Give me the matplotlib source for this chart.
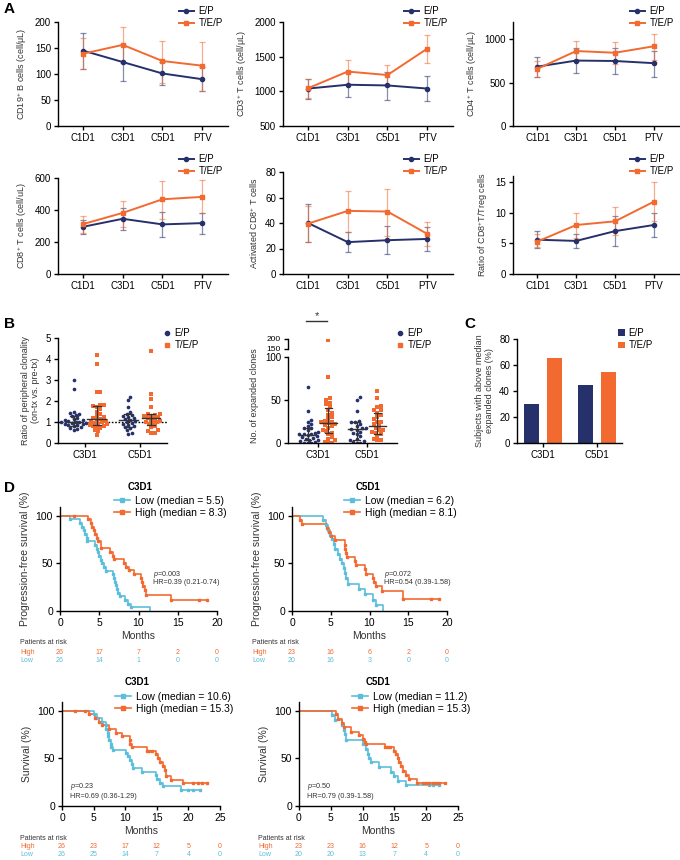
import numpy as np
import matplotlib
matplotlib.use("Agg")
import matplotlib.pyplot as plt
import matplotlib.transforms as mtransforms
from matplotlib.lines import Line2D

plt.rcParams['font.family'] = ['Liberation Sans', 'DejaVu Sans']
plt.rcParams['mathtext.fontset'] = 'custom'
plt.rcParams['mathtext.rm'] = 'Liberation Sans'
plt.rcParams['mathtext.it'] = 'Liberation Sans:italic'

W, H = 680, 860
NAVY = '#26306a'
ORANGE = '#f26a30'
CYAN = '#5bbfdc'

# ---------------- panel A data: mean, lower, upper ----------------
visits = ['C1D1', 'C3D1', 'C5D1', 'PTV']

cd19_ep = [145, 123, 101, 90]
cd19_ep_lo = [110, 87, 78, 67]
cd19_ep_hi = [179, 155, 124, 113]
cd19_tep = [139, 156, 125, 116]
cd19_tep_lo = [110, 122, 83, 68]
cd19_tep_hi = [170, 191, 164, 162]

cd3_ep = [1040, 1095, 1085, 1040]
cd3_ep_lo = [895, 915, 880, 860]
cd3_ep_hi = [1185, 1275, 1280, 1225]
cd3_tep = [1045, 1285, 1235, 1615]
cd3_tep_lo = [900, 1110, 1090, 1410]
cd3_tep_hi = [1185, 1450, 1375, 1815]

cd4_ep = [685, 755, 750, 725]
cd4_ep_lo = [570, 610, 600, 570]
cd4_ep_hi = [795, 895, 895, 870]
cd4_tep = [660, 865, 845, 920]
cd4_tep_lo = [570, 750, 720, 760]
cd4_tep_hi = [750, 980, 965, 1060]

cd8_ep = [295, 345, 310, 318]
cd8_ep_lo = [250, 275, 230, 250]
cd8_ep_hi = [340, 410, 385, 380]
cd8_tep = [312, 382, 467, 482]
cd8_tep_lo = [255, 295, 345, 380]
cd8_tep_hi = [365, 455, 580, 585]

act_ep = [40, 25, 26.5, 27.5]
act_ep_lo = [25, 17, 16, 18]
act_ep_hi = [55, 33, 37.5, 37]
act_tep = [39.5, 49.5, 49, 31.5]
act_tep_lo = [25, 33, 30, 22]
act_tep_hi = [53, 65, 67, 40.5]

ratio_ep = [5.6, 5.4, 7.0, 8.0]
ratio_ep_lo = [4.2, 4.2, 4.5, 6.0]
ratio_ep_hi = [7.1, 6.6, 9.4, 9.9]
ratio_tep = [5.3, 8.0, 8.6, 11.8]
ratio_tep_lo = [4.4, 5.9, 6.3, 8.7]
ratio_tep_hi = [6.5, 10.0, 10.9, 15.0]

# ---------------- panel B data ----------------
timepoints = ['C3D1', 'C5D1']
clon_ep_c3 = [3.0, 2.55, 1.5, 1.45, 1.4, 1.35, 1.3, 1.2, 1.15, 1.1, 1.1, 1.05, 1.0, 1.0,
              1.0, 0.95, 0.95, 0.9, 0.9, 0.85, 0.85, 0.8, 0.75, 0.7, 0.65, 0.6]
clon_tep_c3 = [4.2, 3.75, 2.45, 2.45, 1.8, 1.8, 1.75, 1.7, 1.6, 1.5, 1.4, 1.3, 1.25, 1.2, 1.15,
               1.1, 1.05, 1.0, 1.0, 0.95, 0.9, 0.9, 0.85, 0.8, 0.8, 0.75, 0.7, 0.6, 0.55, 0.4]
clon_ep_c5 = [2.2, 2.05, 1.7, 1.5, 1.4, 1.35, 1.3, 1.25, 1.2, 1.15, 1.1, 1.05, 1.0, 0.95,
              0.9, 0.85, 0.8, 0.75, 0.7, 0.6, 0.5, 0.45]
clon_tep_c5 = [4.4, 2.35, 2.1, 1.7, 1.4, 1.4, 1.35, 1.3, 1.3, 1.25, 1.2, 1.15, 1.1, 1.05,
               1.0, 1.0, 0.95, 0.9, 0.8, 0.75, 0.6, 0.55, 0.5, 0.5]
clon_med = [1.0, 1.15, 1.1, 1.2]
clon_q1 = [0.8, 0.85, 0.75, 0.85]
clon_q3 = [1.3, 1.75, 1.4, 1.4]

exp_ep_c3 = [65, 37, 27, 25, 22, 20, 18, 17, 15, 13, 12, 11, 10, 10, 9, 8, 7, 6, 5, 4, 3,
             2, 1, 0, 0, 0]
exp_tep_c3 = [195, 77, 52, 50, 47, 45, 42, 38, 35, 33, 30, 28, 26, 25, 24, 23, 22, 21, 20,
              18, 15, 14, 12, 10, 7, 5, 3, 1, 0, 0]
exp_ep_c5 = [53, 50, 37, 26, 25, 24, 22, 20, 18, 17, 16, 15, 13, 12, 10, 8, 5, 3, 2, 1, 0, 0]
exp_tep_c5 = [60, 52, 43, 42, 38, 38, 35, 32, 30, 28, 25, 25, 22, 20, 18, 15, 15, 13, 12,
              10, 8, 5, 4, 3]
exp_med = [9, 23, 16, 20]
exp_q1 = [4, 12, 4, 10]
exp_q3 = [17, 41, 24, 35]

# ---------------- panel C data ----------------
above_ep = [30, 45]
above_tep = [65.5, 54.5]

# ---------------- panel D data (KM steps) ----------------
pfs3_hi_t = [0, 3.6, 3.9, 4.1, 4.3, 4.5, 4.7, 4.9, 5.2, 6.4, 6.7, 6.9, 8.1, 8.4, 8.8, 9.4,
             10.3, 10.5, 10.6, 10.8, 11.0, 14.2, 18.7]
pfs3_hi_s = [100, 96, 92, 88, 85, 81, 77, 73, 66, 62, 58, 54, 50, 46, 43, 39, 35, 30, 26,
             22, 17, 12, 12]
pfs3_hi_cens = [1.8, 17.7, 18.7]
pfs3_lo_t = [0, 1.3, 2.6, 2.8, 3.0, 3.2, 3.4, 3.5, 4.5, 4.7, 4.9, 5.0, 5.2, 5.4, 5.6, 5.8,
             6.8, 6.9, 7.0, 7.1, 7.2, 7.4, 7.7, 8.3, 8.6, 9.0, 11.5]
pfs3_lo_s = [100, 96.2, 92.3, 88.5, 84.6, 80.8, 76.9, 73.1, 69.2, 65.4, 61.5, 57.7, 53.8,
             50, 46.2, 42.3, 38.5, 34.6, 30.8, 26.9, 23.1, 19.2, 15.4, 11.5, 7.7, 3.8, 0]
pfs3_lo_cens = []

pfs5_hi_t = [0, 1.0, 1.3, 4.5, 4.8, 5.0, 5.5, 6.8, 6.9, 7.0, 7.1, 8.1, 8.3, 9.4, 9.6, 10.5,
             10.6, 10.8, 11.6, 14.3, 19.0]
pfs5_hi_s = [100, 95.7, 91.3, 87, 82.6, 78.3, 73.9, 69.6, 65.2, 60.9, 56.5, 52.2, 47.8,
             43.5, 39.1, 34.8, 30.4, 26.1, 21, 13, 13]
pfs5_hi_cens = [17.9, 19.0]
pfs5_lo_t = [0, 4.0, 4.4, 4.7, 4.9, 5.1, 5.4, 5.6, 5.9, 6.2, 6.5, 6.7, 6.9, 7.0, 7.2, 8.6,
             9.4, 10.5, 10.9, 11.7]
pfs5_lo_s = [100, 95, 90, 85, 80, 75, 70, 65, 60, 55, 50, 45, 40, 35, 28, 23, 17.5, 12, 6, 0]
pfs5_lo_cens = []

os3_hi_t = [0, 4.2, 5.3, 5.8, 6.3, 7.4, 8.6, 9.5, 10.7, 10.8, 11.0, 13.4, 14.8, 15.2, 15.5,
            16.0, 16.3, 16.5, 17.3, 19.2, 22.9]
os3_hi_s = [100, 96, 92, 88, 85, 81, 77, 73, 69, 65, 62, 58, 54, 50, 46, 42, 38, 31, 27,
            24, 24]
os3_hi_cens = [2.0, 3.7, 13.8, 14.2, 20.8, 21.5, 22.2, 22.9]
os3_lo_t = [0, 5.1, 5.5, 6.3, 6.9, 7.0, 7.2, 7.3, 7.5, 7.7, 7.8, 8.0, 10.1, 10.4, 10.7, 11.0,
            11.3, 12.7, 14.8, 15.0, 15.5, 16.0, 18.8, 21.8]
os3_lo_s = [100, 96, 92, 88, 85, 81, 77, 73, 69, 65, 62, 59, 56, 52, 48, 44, 40, 36, 32,
            28, 24, 21, 17, 17]
os3_lo_cens = [20.0, 20.8, 21.8]

os5_hi_t = [0, 5.8, 6.2, 6.8, 7.0, 8.2, 9.5, 10.0, 10.3, 10.6, 13.6, 15.0, 15.3, 15.5, 15.8,
            16.0, 16.4, 16.8, 17.3, 18.6, 22.9]
os5_hi_s = [100, 96, 91, 87, 83, 78, 74, 70, 67, 65, 62, 58, 54, 50, 46, 42, 37, 33, 28,
            24, 24]
os5_hi_cens = [14.0, 14.3, 19.5, 20.0, 20.5, 21.0, 21.5, 22.0, 22.9]
os5_lo_t = [0, 5.2, 5.6, 6.8, 7.0, 7.2, 7.4, 10.0, 10.5, 10.8, 11.0, 11.3, 12.5, 14.5, 15.0,
            15.6, 16.8, 22.0]
os5_lo_s = [100, 95, 90, 85, 80, 75, 69, 65, 60, 55, 50, 46, 41, 36, 31, 26, 22, 22]
os5_lo_cens = [20.5, 21.0, 22.0]

risk_pfs3_hi = [26, 17, 7, 2, 0]
risk_pfs3_lo = [26, 14, 1, 0, 0]
risk_pfs5_hi = [23, 16, 6, 2, 0]
risk_pfs5_lo = [20, 16, 3, 0, 0]
risk_os3_hi = [26, 23, 17, 12, 5, 0]
risk_os3_lo = [26, 25, 14, 7, 4, 0]
risk_os5_hi = [23, 23, 16, 12, 5, 0]
risk_os5_lo = [20, 20, 13, 7, 4, 0]

fig = plt.figure(figsize=(W / 100, H / 100), dpi=100)


def px_axes(l, t, r, b):
    return fig.add_axes([l / W, 1 - b / H, (r - l) / W, (b - t) / H])


def style(ax, fs=7):
    for s in ['top', 'right']:
        ax.spines[s].set_visible(False)
    for s in ['left', 'bottom']:
        ax.spines[s].set_linewidth(1.0)
    ax.tick_params(direction='out', length=3, width=1.0, labelsize=fs, pad=2)


def fx(x):
    return x / W


def fy(y):
    return 1 - y / H


def line_panel(box, ep, ep_lo, ep_hi, tep, tep_lo, tep_hi, ylim, yticks, ylabel, leg_xy):
    ax = px_axes(*box)
    style(ax)
    x = np.arange(len(visits))
    for m, lo, hi, c in [(ep, ep_lo, ep_hi, NAVY), (tep, tep_lo, tep_hi, ORANGE)]:
        m = np.array(m, float)
        err = [m - np.array(lo), np.array(hi) - m]
        ax.errorbar(x, m, yerr=err, fmt='none', ecolor=c, alpha=0.55, capsize=2,
                    elinewidth=0.9, capthick=0.9)
    h1, = ax.plot(x, ep, color=NAVY, marker='o', ms=3, lw=1.4)
    h2, = ax.plot(x, tep, color=ORANGE, marker='s', ms=3.5, lw=1.4)
    ax.set_xlim(-0.63, 3.65)
    ax.set_ylim(*ylim)
    ax.set_yticks(yticks)
    ax.set_xticks(x)
    ax.set_xticklabels(visits)
    ax.set_ylabel(ylabel, fontsize=6.5, color='#333333')
    ax.legend([h1, h2], ['E/P', 'T/E/P'], loc='upper left',
              bbox_to_anchor=(fx(leg_xy[0]), fy(leg_xy[1])), bbox_transform=fig.transFigure,
              frameon=False, fontsize=7, handlelength=1.5, handletextpad=0.5,
              labelspacing=0.25, borderaxespad=0, borderpad=0)
    return ax


# ---------------- panel A ----------------
line_panel((58, 22, 228, 126), cd19_ep, cd19_ep_lo, cd19_ep_hi, cd19_tep, cd19_tep_lo,
           cd19_tep_hi, (0, 200), [0, 50, 100, 150, 200], 'CD19$^{+}$ B cells (cell/μL)',
           (179, 6))
line_panel((283, 22, 453, 126), cd3_ep, cd3_ep_lo, cd3_ep_hi, cd3_tep, cd3_tep_lo,
           cd3_tep_hi, (500, 2000), [500, 1000, 1500, 2000], 'CD3$^{+}$ T cells (cell/μL)',
           (404, 6))
line_panel((513, 22, 679, 126), cd4_ep, cd4_ep_lo, cd4_ep_hi, cd4_tep, cd4_tep_lo,
           cd4_tep_hi, (0, 1200), [0, 500, 1000], 'CD4$^{+}$ T cells (cell/μL)',
           (630, 6))
line_panel((58, 178, 228, 274), cd8_ep, cd8_ep_lo, cd8_ep_hi, cd8_tep, cd8_tep_lo,
           cd8_tep_hi, (0, 600), [0, 200, 400, 600], 'CD8$^{+}$ T cells (cell/uL)',
           (179, 154))
line_panel((283, 172, 453, 274), act_ep, act_ep_lo, act_ep_hi, act_tep, act_tep_lo,
           act_tep_hi, (0, 80), [0, 20, 40, 60, 80], 'Activated CD8$^{+}$ T cells',
           (404, 154))
line_panel((513, 176, 679, 274), ratio_ep, ratio_ep_lo, ratio_ep_hi, ratio_tep, ratio_tep_lo,
           ratio_tep_hi, (0, 16), [0, 5, 10, 15], 'Ratio of CD8$^{+}$T/Treg cells',
           (630, 154))


# ---------------- panel B ----------------
def swarm(vals, xpx, ypx, d=3.6):
    y = np.asarray(vals, float) * ypx
    xs = np.zeros(len(y))
    done = []
    for i in np.argsort(y):
        c = 0.0
        for k in range(80):
            c = ((k + 1) // 2) * (1 if k % 2 else -1) * d * 0.5
            if all((c - xs[j]) ** 2 + (y[i] - y[j]) ** 2 >= d * d for j in done):
                break
        xs[i] = c
        done.append(i)
    return xs / xpx


def scatter_groups(axes, groups, xpx, ypx, med, q1, q3, off=0.21):
    centers = [-off, off, 1 - off, 1 + off]
    for gi, vals in enumerate(groups):
        c = NAVY if gi % 2 == 0 else ORANGE
        mk = 'o' if gi % 2 == 0 else 's'
        xs = centers[gi] + swarm(vals, xpx, ypx)
        for ax in axes:
            ax.scatter(xs, vals, s=7 if mk == 'o' else 8, marker=mk, color=c, lw=0, zorder=2)
    for gi in range(4):
        cx = centers[gi]
        for ax in axes:
            ax.plot([cx - 0.17, cx + 0.17], [med[gi], med[gi]], color='#333333', lw=1.0, zorder=3)
            ax.plot([cx, cx], [q1[gi], q3[gi]], color='#333333', lw=0.9, zorder=3)
            for q in (q1[gi], q3[gi]):
                ax.plot([cx - 0.07, cx + 0.07], [q, q], color='#333333', lw=0.9, zorder=3)


b1 = px_axes(58, 338, 167, 443)
style(b1)
scatter_groups([b1], [clon_ep_c3, clon_tep_c3, clon_ep_c5, clon_tep_c5], 55, 21,
               clon_med, clon_q1, clon_q3)
b1.axhline(1, color='black', ls=(0, (1.2, 1.2)), lw=1.0, zorder=1)
b1.set_xlim(-0.5, 1.5)
b1.set_ylim(0, 5)
b1.set_yticks([0, 1, 2, 3, 4, 5])
b1.set_xticks([0, 1])
b1.set_xticklabels(timepoints)
b1.set_ylabel('Ratio of peripheral clonality\n(on-tx vs. pre-tx)', fontsize=6.5,
              color='#333333', linespacing=1.1)
hb1 = Line2D([], [], ls='none', marker='o', ms=3, color=NAVY)
hb2 = Line2D([], [], ls='none', marker='s', ms=3.5, color=ORANGE)
b1.legend([hb1, hb2], ['E/P', 'T/E/P'], loc='upper left', bbox_to_anchor=(fx(163), fy(328)),
          bbox_transform=fig.transFigure, frameon=False, fontsize=7, handlelength=0.8,
          handletextpad=0.4, labelspacing=0.25, borderaxespad=0, borderpad=0)

b2 = px_axes(288, 357, 397, 443)
b2u = px_axes(288, 339, 397, 349)
style(b2)
style(b2u, fs=6)
b2u.spines['bottom'].set_visible(False)
b2u.set_xticks([])
scatter_groups([b2, b2u], [exp_ep_c3, exp_tep_c3, exp_ep_c5, exp_tep_c5], 49, 0.86,
               exp_med, exp_q1, exp_q3)
for ax in (b2, b2u):
    ax.set_xlim(-0.61, 1.61)
b2.set_ylim(0, 100)
b2.set_yticks([0, 50, 100])
b2u.set_ylim(150, 200)
b2u.set_yticks([150, 200])
b2.set_xticks([0, 1])
b2.set_xticklabels(timepoints)
b2.set_ylabel('No. of expanded clones', fontsize=6.5, color='#333333')
b2.yaxis.set_label_coords(-0.27, 0.55)
b2.legend([hb1, hb2], ['E/P', 'T/E/P'], loc='upper left', bbox_to_anchor=(fx(396), fy(328)),
          bbox_transform=fig.transFigure, frameon=False, fontsize=7, handlelength=0.8,
          handletextpad=0.4, labelspacing=0.25, borderaxespad=0, borderpad=0)
fig.add_artist(Line2D([fx(306), fx(327)], [fy(321), fy(321)], color='#333333', lw=1.0))
fig.text(fx(316.5), fy(316), '*', ha='center', va='center', fontsize=8, color='#333333')

# ---------------- panel C ----------------
cax = px_axes(517, 339, 622, 443)
style(cax)
xc = np.arange(len(timepoints))
hc1 = cax.bar(xc - 0.21, above_ep, width=0.27, color=NAVY)
hc2 = cax.bar(xc + 0.21, above_tep, width=0.27, color=ORANGE)
cax.set_xlim(-0.48, 1.46)
cax.set_ylim(0, 80)
cax.set_yticks([0, 20, 40, 60, 80])
cax.set_xticks(xc)
cax.set_xticklabels(timepoints)
cax.set_ylabel('Subjects with above median\nexpanded clones (%)', fontsize=6.5,
               color='#333333', linespacing=1.1)
cax.legend([hc1, hc2], ['E/P', 'T/E/P'], loc='upper left', bbox_to_anchor=(fx(618), fy(328)),
           bbox_transform=fig.transFigure, frameon=False, fontsize=7, handlelength=0.7,
           handleheight=0.7, handletextpad=0.4, labelspacing=0.25, borderaxespad=0,
           borderpad=0)


# ---------------- panel D ----------------
def km_panel(box, hi_t, hi_s, hi_c, lo_t, lo_s, lo_c, xmax, xticks, ylabel, title, title_xy,
             leg_xy, low_lab, high_lab, ptxt, hrtxt, p_xy, risk_hi, risk_lo, risk_x, risk_y):
    ax = px_axes(*box)
    style(ax)
    ax.tick_params(labelsize=7.5)
    for t, s, cens, c in [(lo_t, lo_s, lo_c, CYAN), (hi_t, hi_s, hi_c, ORANGE)]:
        ax.step(t, s, where='post', color=c, lw=1.2, zorder=2)
        ax.plot(t[1:-1], s[1:-1], ls='none', marker='s', ms=1.6, color=c, zorder=3)
        if cens:
            cy = [s[np.searchsorted(t, cc, side='right') - 1] for cc in cens]
            ax.plot(cens, cy, ls='none', marker='s', ms=1.8, color=c, zorder=3)
    ax.set_xlim(0, xmax)
    ax.set_ylim(0, 109)
    ax.set_xticks(xticks)
    ax.set_yticks([0, 50, 100])
    ax.set_xlabel('Months', fontsize=7.5, color='#333333', labelpad=2)
    ax.set_ylabel(ylabel, fontsize=7.5, color='#333333')
    fig.text(fx(title_xy[0]), fy(title_xy[1]), title, ha='center', va='center',
             fontsize=7, fontweight='bold')
    hl = Line2D([], [], color=CYAN, marker='s', ms=2.5, lw=1.2)
    hh = Line2D([], [], color=ORANGE, marker='s', ms=2.5, lw=1.2)
    ax.legend([hl, hh], [low_lab, high_lab], loc='upper left',
              bbox_to_anchor=(fx(leg_xy[0]), fy(leg_xy[1])), bbox_transform=fig.transFigure,
              frameon=False, fontsize=7.5, handlelength=1.5, handletextpad=0.5,
              labelspacing=0.15, borderaxespad=0, borderpad=0)
    fig.text(fx(p_xy[0]), fy(p_xy[1]), ptxt, fontsize=5.2, va='center', color='#333333')
    fig.text(fx(p_xy[0]), fy(p_xy[1] + 9), hrtxt, fontsize=5.2, va='center', color='#333333')
    tr = mtransforms.blended_transform_factory(ax.transData, fig.transFigure)
    fig.text(fx(risk_x), fy(risk_y), 'Patients at risk', fontsize=5, va='center',
             color='#333333')
    fig.text(fx(risk_x), fy(risk_y + 9), 'High', fontsize=5, va='center', color=ORANGE)
    fig.text(fx(risk_x), fy(risk_y + 17), 'Low', fontsize=5, va='center', color=CYAN)
    for xv, nh, nl in zip(xticks, risk_hi, risk_lo):
        ax.text(xv, fy(risk_y + 9), str(nh), transform=tr, fontsize=5, ha='center',
                va='center', color=ORANGE)
        ax.text(xv, fy(risk_y + 17), str(nl), transform=tr, fontsize=5, ha='center',
                va='center', color=CYAN)
    return ax


km_panel((60, 507, 217, 611), pfs3_hi_t, pfs3_hi_s, pfs3_hi_cens, pfs3_lo_t, pfs3_lo_s,
         pfs3_lo_cens, 20, [0, 5, 10, 15, 20], 'Progression-free survival (%)', 'C3D1',
         (140, 487), (114, 496), 'Low (median = 5.5)', 'High (median = 8.3)',
         '$\\mathit{p}$=0.003', 'HR=0.39 (0.21-0.74)', (153, 574),
         risk_pfs3_hi, risk_pfs3_lo, 20, 643)
km_panel((292, 507, 447, 611), pfs5_hi_t, pfs5_hi_s, pfs5_hi_cens, pfs5_lo_t, pfs5_lo_s,
         pfs5_lo_cens, 20, [0, 5, 10, 15, 20], 'Progression-free survival (%)', 'C5D1',
         (368, 487), (344, 496), 'Low (median = 6.2)', 'High (median = 8.1)',
         '$\\mathit{p}$=0.072', 'HR=0.54 (0.39-1.58)', (384, 574),
         risk_pfs5_hi, risk_pfs5_lo, 252, 643)
km_panel((62, 702, 220, 806), os3_hi_t, os3_hi_s, os3_hi_cens, os3_lo_t, os3_lo_s,
         os3_lo_cens, 25, [0, 5, 10, 15, 20, 25], 'Survival (%)', 'C3D1',
         (137, 682), (115, 692), 'Low (median = 10.6)', 'High (median = 15.3)',
         '$\\mathit{p}$=0.23', 'HR=0.69 (0.36-1.29)', (70, 787),
         risk_os3_hi, risk_os3_lo, 20, 838)
km_panel((299, 702, 458, 806), os5_hi_t, os5_hi_s, os5_hi_cens, os5_lo_t, os5_lo_s,
         os5_lo_cens, 25, [0, 5, 10, 15, 20, 25], 'Survival (%)', 'C5D1',
         (378, 682), (352, 692), 'Low (median = 11.2)', 'High (median = 15.3)',
         '$\\mathit{p}$=0.50', 'HR=0.79 (0.39-1.58)', (307, 787),
         risk_os5_hi, risk_os5_lo, 258, 838)

# panel letters
for lab, x, y in [('A', 4, 9), ('B', 4, 324), ('C', 464, 324), ('D', 4, 488)]:
    fig.text(fx(x), fy(y), lab, fontsize=11, fontweight='bold', va='center')

fig.savefig('out.png', dpi=100)
